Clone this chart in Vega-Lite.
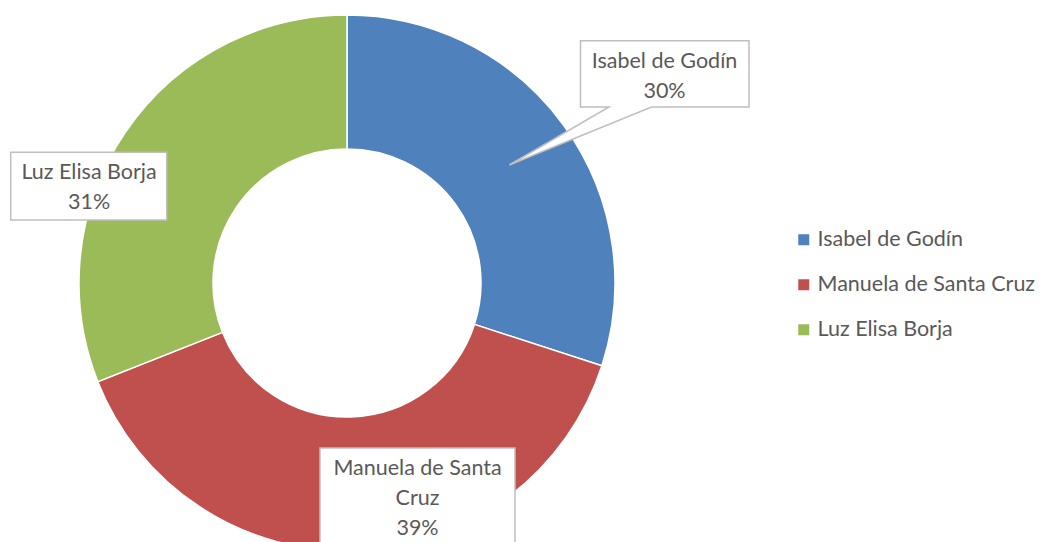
{
  "$schema": "https://vega.github.io/schema/vega-lite/v6.json",
  "width": 694,
  "height": 566,
  "padding": 0,
  "background": "white",
  "config": {"view": {"stroke": null}},
  "data": {"values": [
    {"nombre": "Isabel de Godín", "valor": 30, "orden": 1},
    {"nombre": "Manuela de Santa Cruz", "valor": 39, "orden": 2},
    {"nombre": "Luz Elisa Borja", "valor": 31, "orden": 3}
  ]},
  "transform": [
    {"window": [{"op": "sum", "field": "valor", "as": "acum"}], "sort": [{"field": "orden"}], "frame": [null, 0]},
    {"calculate": "datum.acum - datum.valor / 2", "as": "mid"},
    {"calculate": "(datum.nombre == 'Manuela de Santa Cruz' ? 'Manuela de Santa\\nCruz' : datum.nombre) + '\\n' + datum.valor + '%'", "as": "etiqueta"}
  ],
  "layer": [
    {
      "mark": {"type": "arc", "outerRadius": 268, "innerRadius": 134, "stroke": "white", "strokeWidth": 1.5},
      "encoding": {
        "theta": {"field": "valor", "type": "quantitative", "stack": true},
        "order": {"field": "orden", "type": "quantitative"},
        "color": {
          "field": "nombre", "type": "nominal",
          "scale": {"domain": ["Isabel de Godín", "Manuela de Santa Cruz", "Luz Elisa Borja"], "range": ["#4F81BD", "#C0504D", "#9BBB59"]},
          "legend": {"orient": "none", "legendX": 793, "legendY": 229, "title": null, "symbolType": "square", "symbolSize": 121, "symbolStrokeWidth": 0, "labelFont": "Lato", "labelFontSize": 21.5, "labelColor": "#595959", "labelOffset": 3, "rowPadding": 22, "padding": 0, "labelLimit": 400}
        }
      }
    },
    {
      "transform": [{"filter": "datum.orden == 1"}],
      "mark": {"type": "point", "filled": true, "opacity": 1, "size": 4, "fill": "white", "stroke": "#BFBFBF", "strokeWidth": 1.5,
               "shape": "M233.5,-242.3H402V-176H304.5L162.3,-118L262,-176H233.5Z"},
      "encoding": {}
    },
    {
      "transform": [{"filter": "datum.orden == 3"}],
      "mark": {"type": "point", "filled": true, "opacity": 1, "size": 4, "fill": "white", "stroke": "#BFBFBF", "strokeWidth": 1.5,
               "shape": "M-336.3,-130.7H-180.3V-63H-336.3Z"},
      "encoding": {}
    },
    {
      "transform": [{"filter": "datum.orden == 2"}],
      "mark": {"type": "point", "filled": true, "opacity": 1, "size": 4, "fill": "white", "stroke": "#BFBFBF", "strokeWidth": 1.5,
               "shape": "M-27,165H168V268H-27Z"},
      "encoding": {}
    },
    {
      "transform": [{"filter": "datum.orden == 1"}],
      "mark": {"type": "text", "radius": 380, "dx": 10.1, "dy": 8.7, "align": "center", "baseline": "alphabetic", "lineBreak": "\n", "lineHeight": 30, "font": "Lato", "fontSize": 21.5, "color": "#595959"},
      "encoding": {"theta": {"field": "mid", "type": "quantitative", "stack": null}, "text": {"field": "etiqueta"}}
    },
    {
      "transform": [{"filter": "datum.orden == 3"}],
      "mark": {"type": "text", "radius": 268, "dx": -36.3, "dy": 46.9, "align": "center", "baseline": "alphabetic", "lineBreak": "\n", "lineHeight": 29.5, "font": "Lato", "fontSize": 21.5, "color": "#595959"},
      "encoding": {"theta": {"field": "mid", "type": "quantitative", "stack": null}, "text": {"field": "etiqueta"}}
    },
    {
      "transform": [{"filter": "datum.orden == 2"}],
      "mark": {"type": "text", "radius": 217, "dx": 63.7, "dy": -24.9, "align": "center", "baseline": "alphabetic", "lineBreak": "\n", "lineHeight": 30, "font": "Lato", "fontSize": 21.5, "color": "#595959"},
      "encoding": {"theta": {"field": "mid", "type": "quantitative", "stack": null}, "text": {"field": "etiqueta"}}
    }
  ]
}
